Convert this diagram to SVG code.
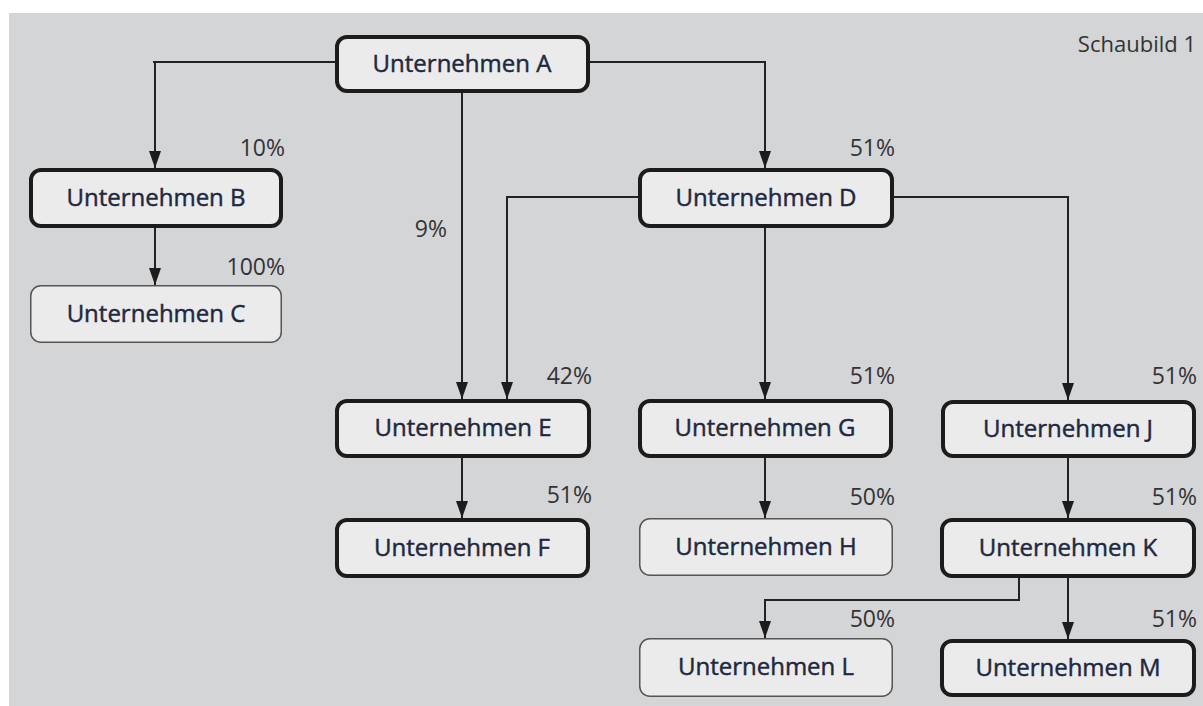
<svg xmlns="http://www.w3.org/2000/svg" width="1203" height="706" viewBox="0 0 1203 706">
<defs>
<style>
.box{fill:#ebebeb;stroke:#1c1c1c;stroke-width:4}
.thin{fill:#ebebeb;stroke:#555;stroke-width:1.5}
.lbl{font-family:"Open Sans","Liberation Sans",sans-serif;font-size:24px;fill:#1e2840;stroke:#1e2840;stroke-width:0.45;text-anchor:middle}
.pct{font-family:"Open Sans","Liberation Sans",sans-serif;font-size:23px;fill:#333;text-anchor:end}
.con{fill:none;stroke:#222;stroke-width:2}
</style>
<marker id="arr" markerUnits="userSpaceOnUse" markerWidth="17" markerHeight="12" viewBox="0 0 17 12" refX="17" refY="6" orient="auto">
<path d="M0,0 L17,6 L0,12 z" fill="#1c1c1c"/>
</marker>
</defs>
<rect x="0" y="0" width="1203" height="706" fill="#ffffff"/>
<rect x="9" y="13" width="1194" height="693" fill="#d4d5d7"/>
<text x="1196" y="52" style="font-family:'Open Sans','Liberation Sans',sans-serif;font-size:22px;fill:#333;text-anchor:end">Schaubild 1</text>
<g id="connectors">
<path class="con" d="M335,62 H153 M155,62 V168" marker-end="url(#arr)"/>
<path class="con" d="M462,93 V399" marker-end="url(#arr)"/>
<path class="con" d="M590,62 H765 V168" marker-end="url(#arr)"/>
<path class="con" d="M155,228 V285" marker-end="url(#arr)"/>
<path class="con" d="M638,197 H507 V399" marker-end="url(#arr)"/>
<path class="con" d="M765,228 V399" marker-end="url(#arr)"/>
<path class="con" d="M894,197 H1068 V400" marker-end="url(#arr)"/>
<path class="con" d="M462,458 V518" marker-end="url(#arr)"/>
<path class="con" d="M765,458 V518" marker-end="url(#arr)"/>
<path class="con" d="M1068,458 V518" marker-end="url(#arr)"/>
<path class="con" d="M1019,578 V600 H765 V638" marker-end="url(#arr)"/>
<path class="con" d="M1068,578 V639" marker-end="url(#arr)"/>
</g>
<g id="labels">
<text class="pct" x="285" y="156">10%</text>
<text class="pct" x="285" y="275">100%</text>
<text class="pct" x="447" y="237">9%</text>
<text class="pct" x="895" y="156">51%</text>
<text class="pct" x="592" y="384">42%</text>
<text class="pct" x="592" y="503">51%</text>
<text class="pct" x="895" y="384">51%</text>
<text class="pct" x="895" y="505">50%</text>
<text class="pct" x="895" y="627">50%</text>
<text class="pct" x="1197" y="384">51%</text>
<text class="pct" x="1197" y="505">51%</text>
<text class="pct" x="1197" y="627">51%</text>
</g>
<g id="nodeA"><rect class="box" x="337" y="37" width="251" height="54" rx="10"/><text class="lbl" x="462" y="72">Unternehmen A</text></g>
<g id="nodeB"><rect class="box" x="31" y="170" width="250" height="56" rx="10"/><text class="lbl" x="156" y="206">Unternehmen B</text></g>
<g id="nodeC"><rect class="thin" x="30.75" y="285.75" width="250.5" height="56.5" rx="10"/><text class="lbl" x="156" y="322">Unternehmen C</text></g>
<g id="nodeD"><rect class="box" x="640" y="170" width="252" height="56" rx="10"/><text class="lbl" x="766" y="206">Unternehmen D</text></g>
<g id="nodeE"><rect class="box" x="337" y="401" width="252" height="55" rx="10"/><text class="lbl" x="463" y="436">Unternehmen E</text></g>
<g id="nodeF"><rect class="box" x="337" y="520" width="251" height="56" rx="10"/><text class="lbl" x="462" y="556">Unternehmen F</text></g>
<g id="nodeG"><rect class="box" x="640" y="401" width="251" height="55" rx="10"/><text class="lbl" x="765" y="436">Unternehmen G</text></g>
<g id="nodeH"><rect class="thin" x="639.75" y="518.75" width="252.5" height="56.5" rx="10"/><text class="lbl" x="766" y="555">Unternehmen H</text></g>
<g id="nodeJ"><rect class="box" x="943" y="402" width="251" height="54" rx="10"/><text class="lbl" x="1068" y="437">Unternehmen J</text></g>
<g id="nodeK"><rect class="box" x="942" y="520" width="252" height="56" rx="10"/><text class="lbl" x="1068" y="556">Unternehmen K</text></g>
<g id="nodeL"><rect class="thin" x="639.75" y="638.75" width="252.5" height="57.5" rx="10"/><text class="lbl" x="766" y="675">Unternehmen L</text></g>
<g id="nodeM"><rect class="box" x="942" y="641" width="252" height="54" rx="10"/><text class="lbl" x="1068" y="676">Unternehmen M</text></g>
</svg>
